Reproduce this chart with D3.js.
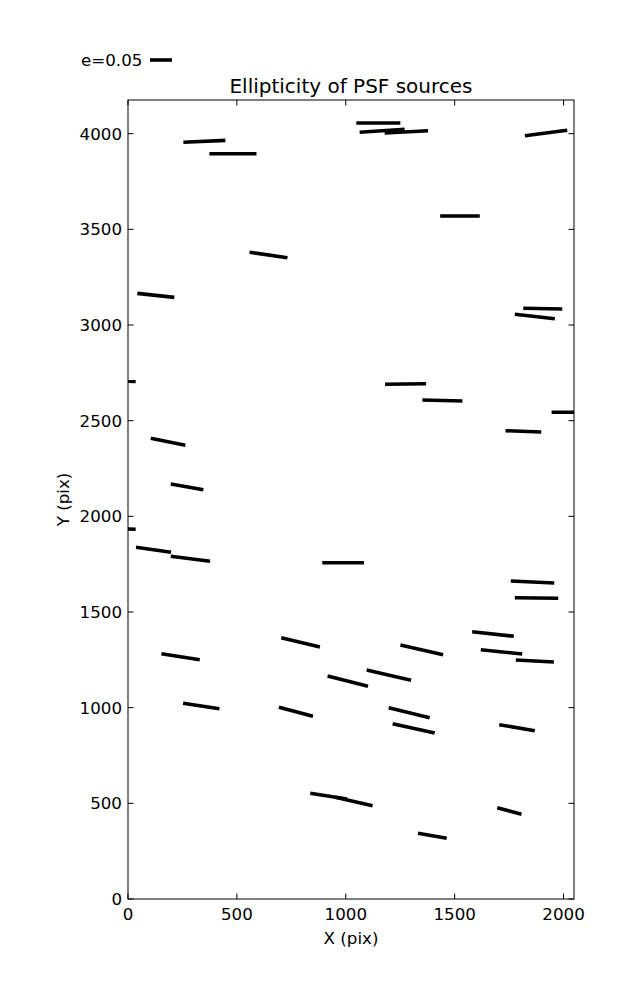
<!DOCTYPE html>
<html><head><meta charset="utf-8">
<script src="https://cdn.jsdelivr.net/npm/d3@7"></script>
<style>body{margin:0;background:#fff}svg{display:block}text{font-family:"DejaVu Sans",sans-serif;fill:#000}</style>
</head><body><svg id="c" width="637" height="1000"></svg>
<script>
// source centres (pix), ellipticity, position angle (deg, CCW)
const srcX = [350.8,481.9,645.1,127.8,1149.5,1167,1278.3,1919.7,1524.3,1904.6,1868.2,5,183.9,271.3,5,117.3,286.7,987.9,1274.6,1443.8,2036,1815.6,1857.6,1876,241.4,336.4,792.5,1009.3,771.1,921.2,1037.6,1348.9,1197.8,1676,1715.1,1868.2,1291.2,1311.8,1786.4,1751.2,1397.8];
const srcY = [3960,3895,3366,3155,4056,4015,4009.6,4003.5,3569.7,3085.5,3044.5,2706,2389.6,2154,1933.8,1825,1778,1757.7,2691.7,2605.4,2543.8,2444.2,1656.8,1573.2,1266.4,1008.7,1341.4,1138.6,978.4,537.6,509.6,1302.2,1170,1385,1291.7,1243.9,973.7,891.9,895.3,459.9,330.6];
const srcE = [0.0956,0.107,0.087,0.0846,0.1,0.1025,0.0988,0.097,0.09,0.0887,0.0915,0.03,0.0802,0.0752,0.03,0.0804,0.09,0.0948,0.0932,0.091,0.09,0.0812,0.0987,0.0987,0.0883,0.0834,0.0905,0.0948,0.08,0.0844,0.0869,0.0995,0.1036,0.0951,0.0946,0.0865,0.0959,0.0978,0.082,0.0572,0.066];
const srcTheta = [2.7,0,-8.1,-6.2,0,3.8,3.0,7.3,0,-1.0,-6.3,-1,-11.4,-9.9,-2,-8.1,-7.3,0,0.8,-1.4,0,-2.1,-2.6,-0.8,-8.9,-8.5,-13.5,-14.3,-14.8,-8.8,-12.7,-12.8,-13.1,-6.3,-5.9,-3.0,-13.7,-12.5,-9.6,-15.2,-9.7];
const xTicks = [0,500,1000,1500,2000];
const yTicks = [0,500,1000,1500,2000,2500,3000,3500,4000];
const keyE = 0.05;

const svg = d3.select("#c");
const L = 128, R = 574, T = 100, B = 899;
const x = d3.scaleLinear().domain([0,2048]).range([L,R]);
const y = d3.scaleLinear().domain([0,4176]).range([B,T]);
const eLen = d3.scaleLinear().domain([0,0.05]).range([0,22]);

svg.append("defs").append("clipPath").attr("id","clip")
  .append("rect").attr("x",L).attr("y",T).attr("width",R-L).attr("height",B-T);

const data = srcX.map((d,i)=>({x:d,y:srcY[i],e:srcE[i],t:srcTheta[i]}));
svg.append("g").attr("clip-path","url(#clip)").selectAll("line").data(data).join("line")
  .attr("x1",d=>x(d.x)-eLen(d.e)/2*Math.cos(d.t*Math.PI/180))
  .attr("x2",d=>x(d.x)+eLen(d.e)/2*Math.cos(d.t*Math.PI/180))
  .attr("y1",d=>y(d.y)+eLen(d.e)/2*Math.sin(d.t*Math.PI/180))
  .attr("y2",d=>y(d.y)-eLen(d.e)/2*Math.sin(d.t*Math.PI/180))
  .attr("stroke","#000").attr("stroke-width",3.6);

// frame
svg.append("rect").attr("x",L).attr("y",T).attr("width",R-L).attr("height",B-T)
  .attr("fill","none").attr("stroke","#000").attr("stroke-width",1);

const tk = 5.5, fs = 16.7;
const ax = svg.append("g").attr("stroke","#000").attr("stroke-width",1);
xTicks.forEach(v=>{
  ax.append("line").attr("x1",x(v)).attr("x2",x(v)).attr("y1",B).attr("y2",B-tk);
  ax.append("line").attr("x1",x(v)).attr("x2",x(v)).attr("y1",T).attr("y2",T+tk);
});
yTicks.forEach(v=>{
  ax.append("line").attr("x1",L).attr("x2",L+tk).attr("y1",y(v)).attr("y2",y(v));
  ax.append("line").attr("x1",R).attr("x2",R-tk).attr("y1",y(v)).attr("y2",y(v));
});
svg.append("g").selectAll("text").data(xTicks).join("text")
  .attr("x",d=>x(d)).attr("y",B+21).attr("text-anchor","middle").attr("font-size",fs).text(d=>d);
svg.append("g").selectAll("text").data(yTicks).join("text")
  .attr("x",L-6).attr("y",d=>y(d)+6).attr("text-anchor","end").attr("font-size",fs).text(d=>d);

svg.append("text").attr("x",(L+R)/2).attr("y",944).attr("text-anchor","middle").attr("font-size",fs).text("X (pix)");
svg.append("text").attr("transform",`translate(69,${(T+B)/2}) rotate(-90)`).attr("text-anchor","middle").attr("font-size",fs).text("Y (pix)");
svg.append("text").attr("x",(L+R)/2).attr("y",93).attr("text-anchor","middle").attr("font-size",20).text("Ellipticity of PSF sources");

// key
svg.append("text").attr("x",81).attr("y",66).attr("font-size",fs).text("e=" + keyE.toFixed(2));
svg.append("line").attr("x1",150).attr("x2",150+eLen(keyE)).attr("y1",60).attr("y2",60)
  .attr("stroke","#000").attr("stroke-width",3.6);
</script></body></html>
